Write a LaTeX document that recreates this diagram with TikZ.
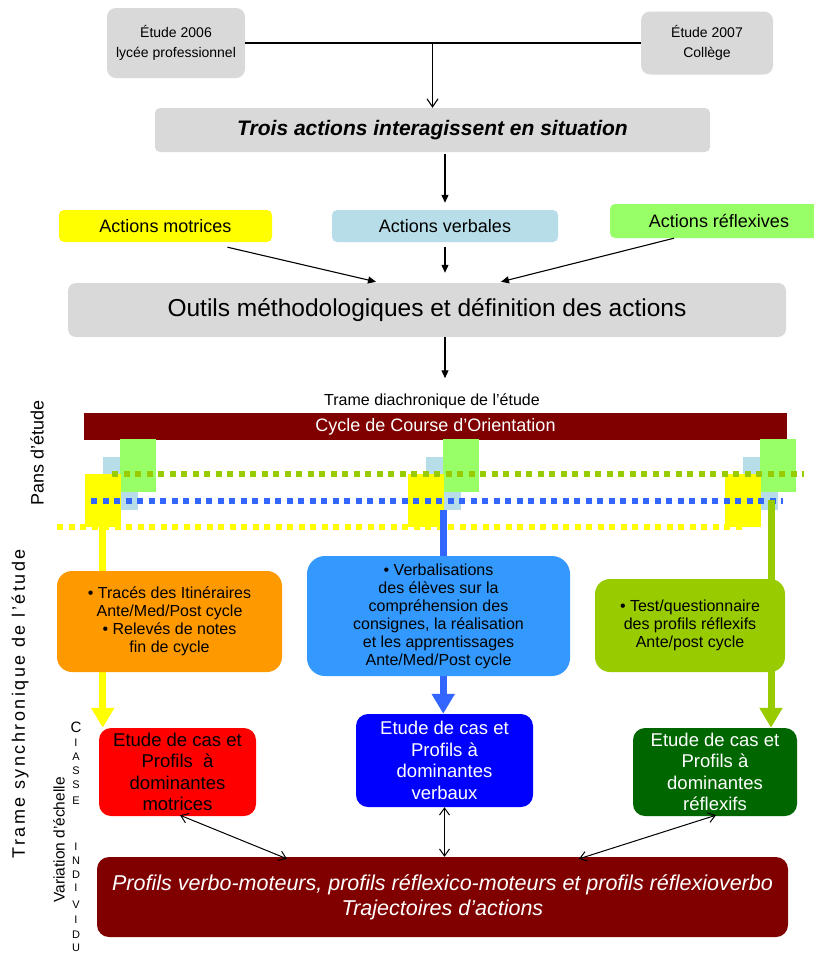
\documentclass[tikz,border=0pt]{standalone}
\usepackage{fontspec}
\setmainfont{Liberation Sans}
\newfontfamily\spacedfont[LetterSpace=14]{Liberation Sans}
\usepackage{tikz}
\usetikzlibrary{arrows.meta,calc}
\definecolor{boxgray}{HTML}{D9D9D9}
\definecolor{yel}{HTML}{FFFF00}
\definecolor{lblue}{HTML}{B7DEE8}
\definecolor{lgreen}{HTML}{99FF66}
\definecolor{maroon}{HTML}{800000}
\definecolor{dotgreen}{HTML}{99CC00}
\definecolor{dotblue}{HTML}{3366FF}
\definecolor{orng}{HTML}{FF9900}
\definecolor{sky}{HTML}{3399FF}
\definecolor{vred}{HTML}{FF0000}
\definecolor{vblue}{HTML}{0000FF}
\definecolor{dgreen}{HTML}{006600}
\newcommand{\fsz}[2]{\fontsize{#1}{#2}\selectfont}
\tikzset{
  box/.style={rounded corners=#1, align=center, inner sep=0pt, text=black},
  box/.default=6pt,
  pan/.style={minimum width=35.5pt, minimum height=53pt, inner sep=0pt},
  arr/.style={-{Triangle[length=8pt,width=7pt]}, line width=1.1pt},
  openarr/.style={-{Straight Barb[length=8pt,width=11pt]}, line width=1.1pt},
  dbl/.style={{Straight Barb[length=7pt,width=10pt]}-{Straight Barb[length=7pt,width=10pt]}, line width=1pt},
  dotline/.style={line width=6pt, dash pattern=on 6pt off 5.5pt},
  thickarr/.style={line width=7pt, -{Triangle[length=20pt,width=22pt]}}
}

\begin{document}
\begin{tikzpicture}[x=1pt,y=-1pt]
  \path[use as bounding box, fill=white] (0,0) rectangle (814,954);

  % sources
  \node[box=9pt, fill=boxgray, minimum width=138pt, minimum height=70pt, font=\fsz{14}{20}] (e06) at (176,43) {Étude 2006\\lycée professionnel};
  \node[box=9pt, fill=boxgray, minimum width=132pt, minimum height=63pt, font=\fsz{14}{20}] (e07) at (707,43) {Étude 2007\\Collège};
  \node[box=5pt, fill=boxgray, minimum width=555pt, minimum height=44pt, font=\fsz{21}{24}\bfseries\itshape] (trois) at (432.5,130) {Trois actions interagissent en situation};
  \draw[line width=1.1pt] (e06.east) -- (e07.west);
  \draw[openarr] (e06.east -| trois) -- (trois.north);

  % actions
  \node[box=5pt, fill=yel, minimum width=213pt, minimum height=32pt, font=\fsz{18}{20}] (am) at (165.5,226) {Actions motrices};
  \node[box=5pt, fill=lblue, minimum width=226pt, minimum height=32pt, font=\fsz{18}{20}] (av) at (445,226) {Actions verbales};
  \node[box=5pt, fill=lgreen, minimum width=218pt, minimum height=34pt, font=\fsz{18}{20}] (ar) at (719,221) {Actions réflexives};
  \node[box=8pt, fill=boxgray, minimum width=718pt, minimum height=54pt, font=\fsz{24.5}{28}] (outils) at (427,310) {Outils méthodologiques et définition des actions};
  \draw[arr, shorten <=2pt, shorten >=7pt] (trois.south -| av) -- (av.north);
  \draw[arr] ($(am.south)+(62,5)$) -- ($(outils.north)+(-51,-1)$);
  \draw[arr, shorten <=5pt, shorten >=10pt] (av.south) -- (av.south |- outils.north);
  \draw[arr] ($(ar.south)+(-45,0)$) -- ($(outils.north)+(74,-1)$);

  % trame diachronique
  \node[inner sep=0pt, font=\fsz{16}{18}] (diachro) at (432,401) {Trame diachronique de l’étude};
  \draw[arr, shorten >=15pt] (outils.south -| av) -- (av |- diachro.north);
  \node[fill=maroon, text=white, minimum width=703pt, minimum height=27pt, inner sep=0pt, font=\fsz{18}{20}] (cycle) at (435.5,426.5) {Cycle de Course d’Orientation};
  \foreach \px/\nm in {85/a,408/b,725/c}{
    \node[pan, fill=lblue] (lb\nm) at (\px+35.25,483.5) {};
    \node[pan, fill=lgreen] (gr\nm) at (\px+52.75,465.5) {};
    \node[pan, fill=yel] (yl\nm) at (\px+17.75,500.5) {};
  }
  \draw[dotline, draw=dotgreen] (112,474) -- (804,474);
  \draw[dotline, draw=dotblue] (91,501) -- (783,501);
  \draw[dotline, draw=yel] (57,527) -- (746,527);

  % trame synchronique
  \node[box=12pt, fill=vred, minimum width=157pt, minimum height=88pt, font=\fsz{18.5}{21.5}] (red) at (177.5,772) {Etude de cas et\\Profils\ \ à\\dominantes\\motrices};
  \node[box=12pt, fill=vblue, text=white, minimum width=177pt, minimum height=93pt, font=\fsz{18.5}{21.5}] (bv) at (444.5,760.5) {Etude de cas et\\Profils à\\dominantes\\verbaux};
  \node[box=12pt, fill=dgreen, text=white, minimum width=164pt, minimum height=88pt, font=\fsz{18.5}{21.5}] (dg) at (715,772) {Etude de cas et\\Profils à\\dominantes\\réflexifs};
  \coordinate (gsrc) at (771,500);
  \draw[thickarr, draw=yel] (yla.south) -- (yla.south |- red.north);
  \draw[thickarr, draw=dotblue] (lbb.south) -- (lbb.south |- bv.north);
  \draw[thickarr, draw=dotgreen] (gsrc) -- (gsrc |- dg.north);
  \node[box=15pt, fill=orng, minimum width=225pt, minimum height=101pt, font=\fsz{16}{18}] (trace) at (169.5,621.5) {• Tracés des Itinéraires\\Ante/Med/Post cycle\\• Relevés de notes\\fin de cycle};
  \node[box=18pt, fill=sky, minimum width=263pt, minimum height=120pt, font=\fsz{16}{18}] (verba) at (438.5,616) {• Verbalisations\\des élèves sur la\\compréhension des\\consignes, la réalisation\\et les apprentissages\\Ante/Med/Post cycle};
  \node[box=15pt, fill=dotgreen, minimum width=190pt, minimum height=93pt, font=\fsz{16}{18}] (test) at (690,625.5) {• Test/questionnaire\\des profils réflexifs\\Ante/post cycle};

  \node[box=12pt, fill=maroon, text=white, minimum width=691pt, minimum height=80pt, font=\fsz{21.5}{25}\itshape] (pv) at (442.5,897) {Profils verbo-moteurs, profils réflexico-moteurs et profils réflexioverbo\\Trajectoires d’actions};
  \draw[dbl] ($(red.south)+(2.5,-1)$) -- ($(pv.north)+(-155.5,2)$);
  \draw[dbl] (bv.south) -- (bv.south |- pv.north);
  \draw[dbl] ($(dg.south)+(1,-1)$) -- ($(pv.north)+(136.5,2)$);

  % left labels
  \node[rotate=90, font=\fsz{18}{20}] (pans) at (37,453) {Pans d’étude};
  \node[rotate=90, font=\spacedfont\fsz{18}{20}] (synchro) at (20,704) {Trame synchronique de l’étude};
  \node[rotate=90, font=\fsz{15.5}{17}] (echelle) at (59,840) {Variation d’échelle};
  \node[font=\fsz{15}{16}, inner sep=0pt] (cl) at (76,727) {C};
  \foreach \lt/\yy in {I/743,A/757,S/771,S/785,E/801}
    \node[font=\fsz{11}{12}, inner sep=0pt] (cl\yy) at (76,\yy) {\lt};
  \foreach \lt/\yy in {I/847,N/861,D/875,I/888,V/905,I/920,D/935,U/948}
    \node[font=\fsz{11}{12}, inner sep=0pt] (ind\yy) at (76,\yy) {\lt};
\end{tikzpicture}
\end{document}
